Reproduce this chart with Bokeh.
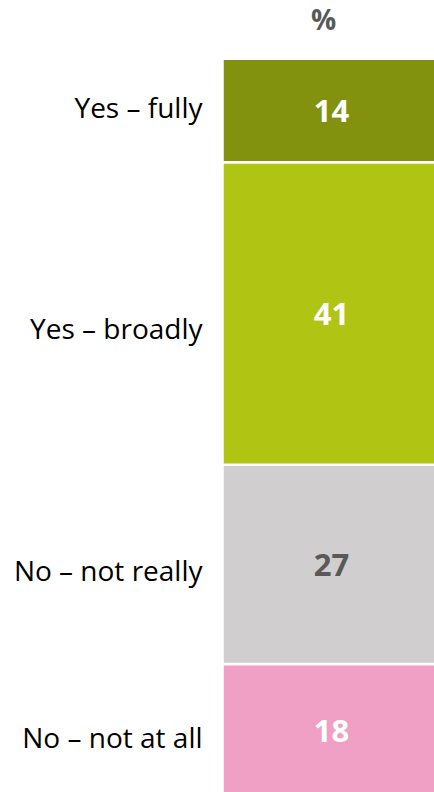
from bokeh.plotting import figure
from bokeh.models import Range1d, ColumnDataSource
from bokeh.core.properties import value
from bokeh.embed import file_html
from bokeh.resources import INLINE

# Data (bottom to top)
categories = ["No \u2013 not at all", "No \u2013 not really", "Yes \u2013 broadly", "Yes \u2013 fully"]
values = [18, 27, 41, 14]
colors = ["#F1A0C5", "#D0CECE", "#B0C414", "#82920F"]
value_text_colors = ["#FFFFFF", "#595959", "#FFFFFF", "#FFFFFF"]
header = "%"

# layout-only nudges (screen pixels, down positive) for the category labels
label_nudge = [7, 6, 15, -3]

bottoms = []
tops = []
acc = 0
for v in values:
    bottoms.append(acc)
    acc += v
    tops.append(acc)
mids = [(b + t) / 2 for b, t in zip(bottoms, tops)]

src = ColumnDataSource(dict(
    cat=categories,
    val=[str(v) for v in values],
    bottom=bottoms,
    top=tops,
    mid=mids,
    color=colors,
    tcolor=value_text_colors,
    left=[0] * len(values),
    right=[1] * len(values),
    xc=[0.5] * len(values),
    nudge=label_nudge,
))

p = figure(width=434, height=792, output_backend="svg", toolbar_location=None,
           x_range=Range1d(-1.018, 0.972), y_range=Range1d(0.6, 107.9),
           min_border=0, min_border_left=0, min_border_right=0,
           min_border_top=0, min_border_bottom=0)
p.axis.visible = False
p.grid.visible = False
p.outline_line_color = None
p.background_fill_color = "white"
p.border_fill_color = "white"

p.quad(left="left", right="right", bottom="bottom", top="top", source=src,
       fill_color="color", line_color="white", line_width=2.5)

p.text(x="xc", y="mid", text="val", source=src, text_color="tcolor",
       text_font=value("Open Sans"), text_font_style="bold", text_font_size="31px",
       text_align="center", text_baseline="middle", y_offset=1)

p.text(x="left", y="mid", text="cat", source=src, text_color="#000000",
       text_font=value("Open Sans"), text_font_size="28px",
       text_align="right", text_baseline="middle", x_offset=-20, y_offset="nudge")

p.text(x=[0.5], y=[tops[-1]], text=[header], text_color="#595959",
       text_font=value("Open Sans"), text_font_style="bold", text_font_size="28px",
       text_align="center", text_baseline="middle", x_offset=-8, y_offset=-40)

open("out.html", "w").write(file_html(p, INLINE))
